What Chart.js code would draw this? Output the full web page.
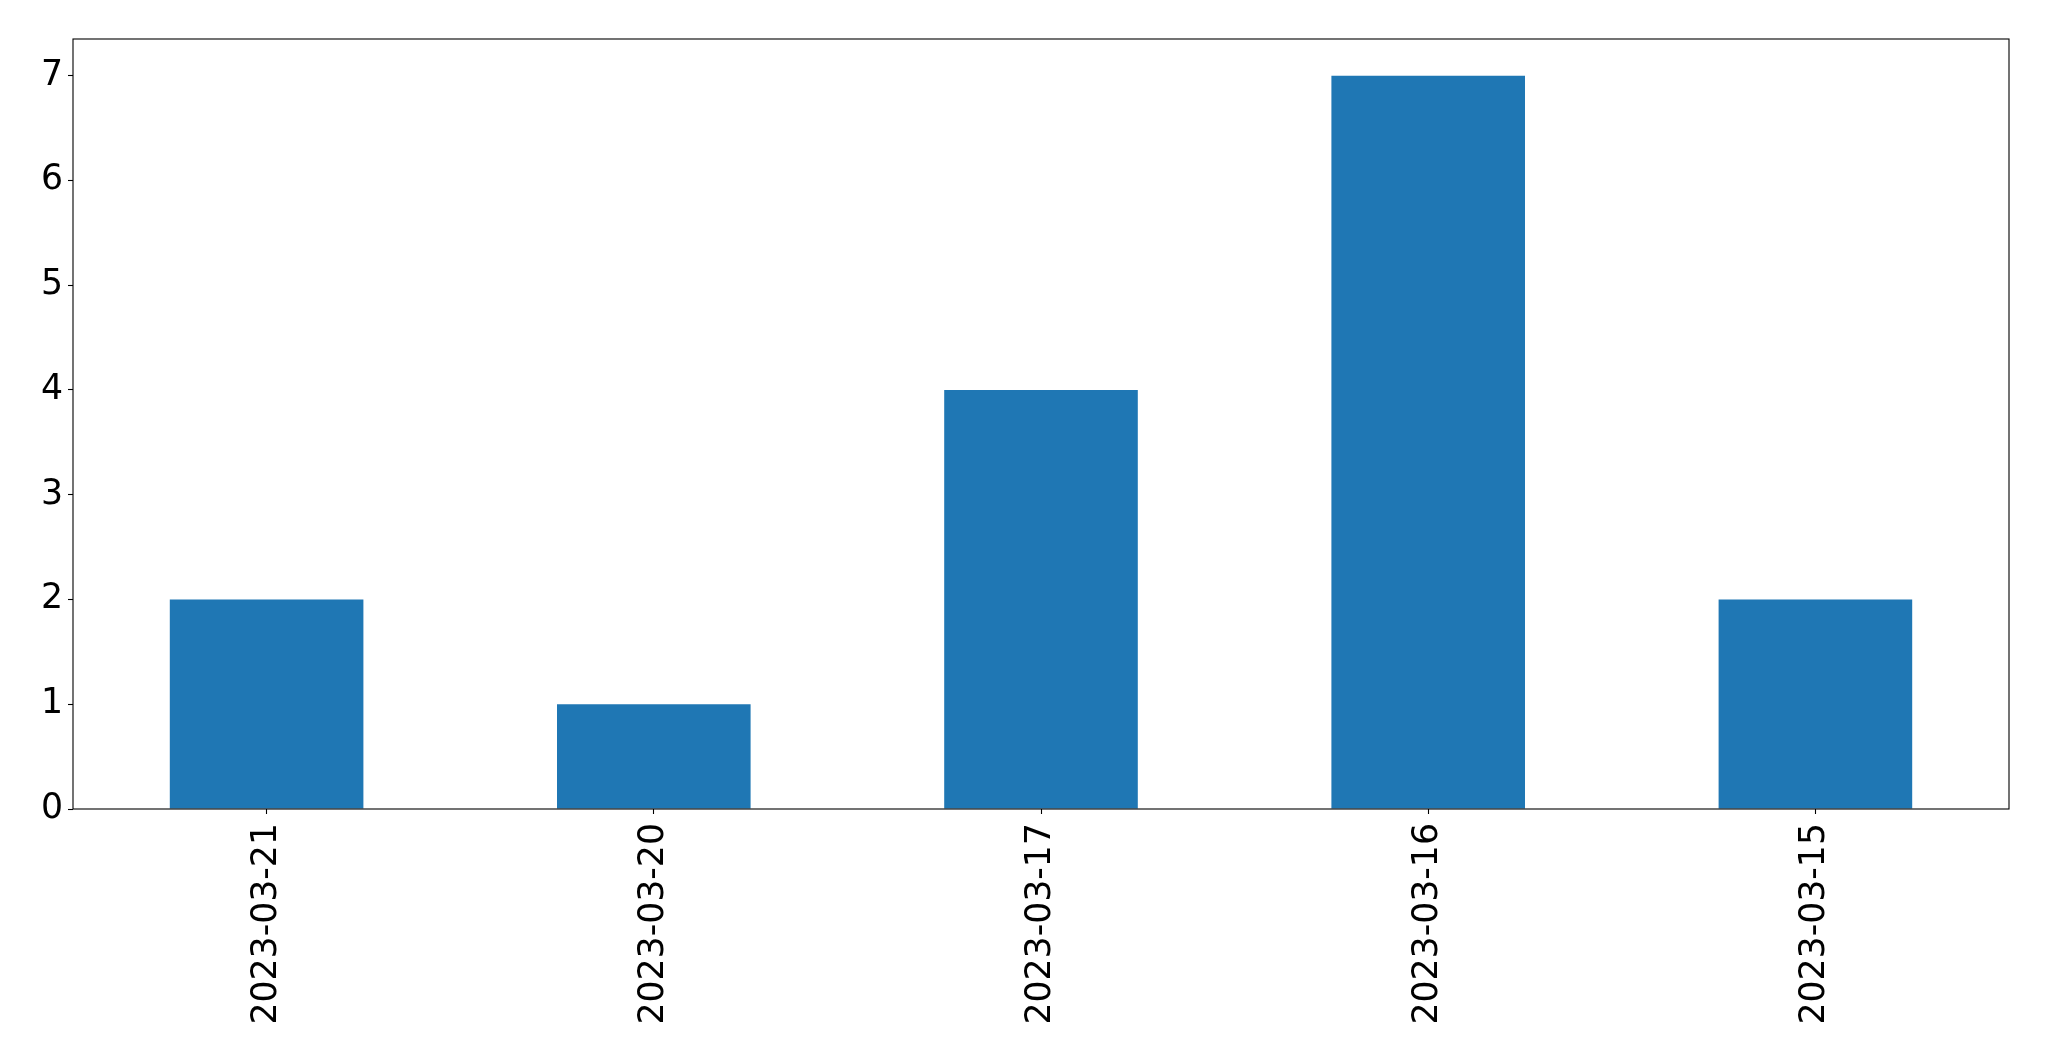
<!DOCTYPE html>
<html>
<head>
<meta charset="utf-8">
<script src="https://cdn.jsdelivr.net/npm/chart.js@4/dist/chart.umd.min.js"></script>
<style>
  html, body { margin: 0; padding: 0; background: #fff; }
  canvas { display: block; }
</style>
</head>
<body>
<canvas id="chart" width="2049" height="1061"></canvas>
<script>
// data
const dates = ["2023-03-21", "2023-03-20", "2023-03-17", "2023-03-16", "2023-03-15"];
const counts = [2, 1, 4, 7, 2];
const yTicks = [0, 1, 2, 3, 4, 5, 6, 7];

// draw the full axes box like matplotlib does
const frame = {
  id: "frame",
  afterDraw(chart) {
    const { ctx, chartArea: a } = chart;
    ctx.save();
    ctx.strokeStyle = "#000";
    ctx.lineWidth = 1.1;
    ctx.strokeRect(a.left, a.top, a.right - a.left, a.bottom - a.top);
    ctx.restore();
  }
};

const font = { family: "DejaVu Sans", size: 34.7 };

new Chart(document.getElementById("chart"), {
  type: "bar",
  data: {
    labels: dates,
    datasets: [{
      data: counts,
      backgroundColor: "#1f77b4",
      borderWidth: 0,
      categoryPercentage: 1,
      barPercentage: 0.5
    }]
  },
  options: {
    responsive: false,
    animation: false,
    layout: { padding: { top: 39, right: 40, left: 0, bottom: 0 } },
    plugins: { legend: { display: false }, tooltip: { enabled: false } },
    scales: {
      x: {
        offset: true,
        border: { display: false },
        grid: { drawOnChartArea: false, tickLength: 5, tickWidth: 1.1, tickColor: "#000", offset: false },
        ticks: { color: "#000", font, minRotation: 90, maxRotation: 90, padding: 9 },
        afterFit(s) { s.height = 252; }
      },
      y: {
        min: 0,
        max: 7.35,
        border: { display: false },
        grid: { drawOnChartArea: false, tickLength: 5, tickWidth: 1.1, tickColor: "#000" },
        ticks: { color: "#000", font, padding: 5 },
        afterBuildTicks(s) { s.ticks = yTicks.map(v => ({ value: v })); },
        afterFit(s) { s.width = 73; }
      }
    }
  },
  plugins: [frame]
});
</script>
</body>
</html>
